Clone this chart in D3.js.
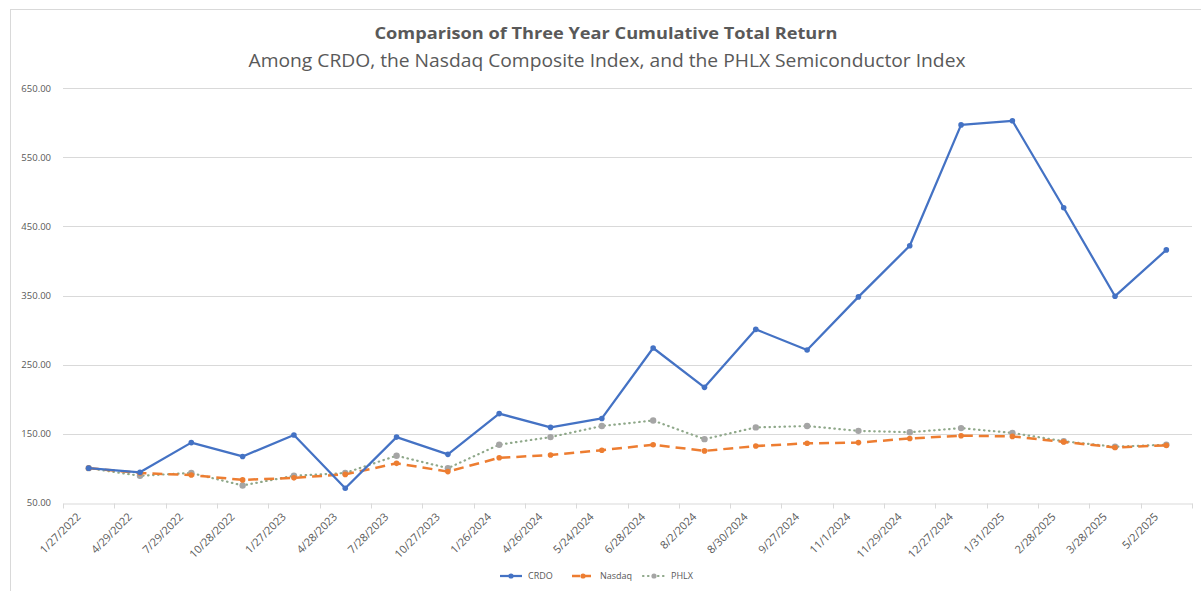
<!DOCTYPE html>
<html>
<head>
<meta charset="utf-8">
<script src="https://cdn.jsdelivr.net/npm/d3@7/dist/d3.min.js"></script>
<style>
  html, body { margin: 0; padding: 0; background: #fff; }
  svg { display: block; }
  text { font-family: "Open Sans", "Noto Sans", sans-serif; }
</style>
</head>
<body>
<svg id="chart" width="1201" height="591"></svg>
<script>
const dates = ["1/27/2022","4/29/2022","7/29/2022","10/28/2022","1/27/2023","4/28/2023","7/28/2023","10/27/2023","1/26/2024","4/26/2024","5/24/2024","6/28/2024","8/2/2024","8/30/2024","9/27/2024","11/1/2024","11/29/2024","12/27/2024","1/31/2025","2/28/2025","3/28/2025","5/2/2025"];
const crdo   = [100, 94, 137, 117, 148, 71, 145, 120, 179, 159, 172, 274, 217, 301, 271, 348, 422, 597, 603, 477, 349, 416];
const nasdaq = [100, 93, 90, 83, 86, 91, 107, 95, 115, 119, 126, 134, 125, 132, 136, 137, 143, 147, 146, 138, 130, 133];
const phlx   = [100, 89, 93, 75, 89, 93, 118, 100, 134, 145, 161, 169, 142, 159, 161, 154, 152, 158, 151, 139, 131, 134];
const yTicks = [50, 150, 250, 350, 450, 550, 650];
const seriesNames = ["CRDO", "Nasdaq", "PHLX"];

(function () {
const svg = d3.select("#chart");

// chart frame
svg.append("rect").attr("x", 10.5).attr("y", 9.5).attr("width", 1200).attr("height", 600)
  .attr("fill", "#fff").attr("stroke", "#d9d9d9").attr("stroke-width", 1);

const mLeft = 63, mRight = 1192, mTop = 88.3, mBottom = 502.7;

const x = d3.scaleBand().domain(dates).range([mLeft, mRight]).padding(0);
const y = d3.scaleLinear().domain([50, 650]).range([mBottom, mTop]);
const cx = d => x(d) + x.bandwidth() / 2;

// gridlines
svg.append("g").selectAll("line").data(yTicks.filter(t => t !== 50)).join("line")
  .attr("x1", mLeft).attr("x2", mRight)
  .attr("y1", d => Math.round(y(d)) + 0.5).attr("y2", d => Math.round(y(d)) + 0.5)
  .attr("stroke", "#d9d9d9").attr("stroke-width", 1);

// y axis labels
const yAxis = d3.axisLeft(y).tickValues(yTicks).tickFormat(d3.format(".2f")).tickSize(0).tickPadding(12);
const gy = svg.append("g").attr("transform", `translate(${mLeft},0)`).call(yAxis);
gy.select(".domain").remove();
gy.selectAll("text").attr("font-size", "9.5px").attr("fill", "#595959")
  .attr("font-family", "'Open Sans', sans-serif");

// x axis
const xAxis = d3.axisBottom(x).tickSize(0).tickFormat("");
const gx = svg.append("g").attr("transform", `translate(0,${Math.round(mBottom) + 0.5})`).call(xAxis);
gx.select(".domain").attr("stroke", "#d9d9d9");
gx.selectAll(".tick").remove();
// tick marks at band boundaries
const bounds = dates.map(d => x(d)).concat([mRight]);
svg.append("g").selectAll("line").data(bounds).join("line")
  .attr("x1", d => Math.round(d) + 0.5).attr("x2", d => Math.round(d) + 0.5)
  .attr("y1", Math.round(mBottom) + 0.5).attr("y2", Math.round(mBottom) + 5.5)
  .attr("stroke", "#d9d9d9");
// rotated labels
svg.append("g").selectAll("text").data(dates).join("text")
  .attr("transform", d => `translate(${cx(d) - 10},${mBottom + 12}) rotate(-45)`)
  .attr("text-anchor", "end").attr("dy", "0.35em")
  .attr("font-size", "11px").attr("fill", "#595959")
  .text(d => d);

// series
const colors = { CRDO: "#4472c4", Nasdaq: "#ed7d31", PHLX: "#8fa88a" };
const markerColors = { CRDO: "#4472c4", Nasdaq: "#ed7d31", PHLX: "#a5a5a5" };
const dashes = { CRDO: null, Nasdaq: "10,6", PHLX: "0.5,4.5" };
const widths = { CRDO: 2.25, Nasdaq: 2.5, PHLX: 2.2 };
const dataMap = { CRDO: crdo, Nasdaq: nasdaq, PHLX: phlx };

const line = d3.line().x((d, i) => cx(dates[i])).y(d => y(d));

["PHLX", "Nasdaq", "CRDO"].forEach(name => {
  const vals = dataMap[name];
  svg.append("path").datum(vals).attr("d", line)
    .attr("fill", "none").attr("stroke", colors[name]).attr("stroke-width", widths[name])
    .attr("stroke-dasharray", dashes[name]).attr("stroke-linejoin", "round")
    .attr("stroke-linecap", name === "PHLX" ? "round" : "butt");
  svg.append("g").selectAll("circle").data(vals).join("circle")
    .attr("cx", (d, i) => cx(dates[i])).attr("cy", d => y(d))
    .attr("r", name === "PHLX" ? 3.2 : 2.8)
    .attr("fill", markerColors[name]);
});

// titles
svg.append("text").attr("x", 606).attr("y", 39).attr("text-anchor", "middle")
  .attr("font-size", "16px").attr("font-weight", "bold").attr("fill", "#595959")
  .attr("textLength", 463).attr("lengthAdjust", "spacingAndGlyphs")
  .text("Comparison of Three Year Cumulative Total Return");
svg.append("text").attr("x", 607).attr("y", 67).attr("text-anchor", "middle")
  .attr("font-size", "18.5px").attr("fill", "#595959")
  .attr("textLength", 717).attr("lengthAdjust", "spacingAndGlyphs")
  .text("Among CRDO, the Nasdaq Composite Index, and the PHLX Semiconductor Index");

// legend
const legendItems = [
  { name: "CRDO", x0: 500 },
  { name: "Nasdaq", x0: 572 },
  { name: "PHLX", x0: 643 }
];
const lg = svg.append("g");
legendItems.forEach(it => {
  const ly = 576;
  lg.append("line").attr("x1", it.x0).attr("x2", it.x0 + 22).attr("y1", ly).attr("y2", ly)
    .attr("stroke", colors[it.name]).attr("stroke-width", widths[it.name])
    .attr("stroke-dasharray", it.name === "Nasdaq" ? "8,3" : dashes[it.name])
    .attr("stroke-linecap", it.name === "PHLX" ? "round" : "butt");
  lg.append("circle").attr("cx", it.x0 + 11).attr("cy", ly).attr("r", 2.6).attr("fill", markerColors[it.name]);
  lg.append("text").attr("x", it.x0 + 28).attr("y", ly).attr("dy", "0.35em")
    .attr("font-size", "9px").attr("fill", "#595959").text(it.name);
});
})();
</script>
</body>
</html>
